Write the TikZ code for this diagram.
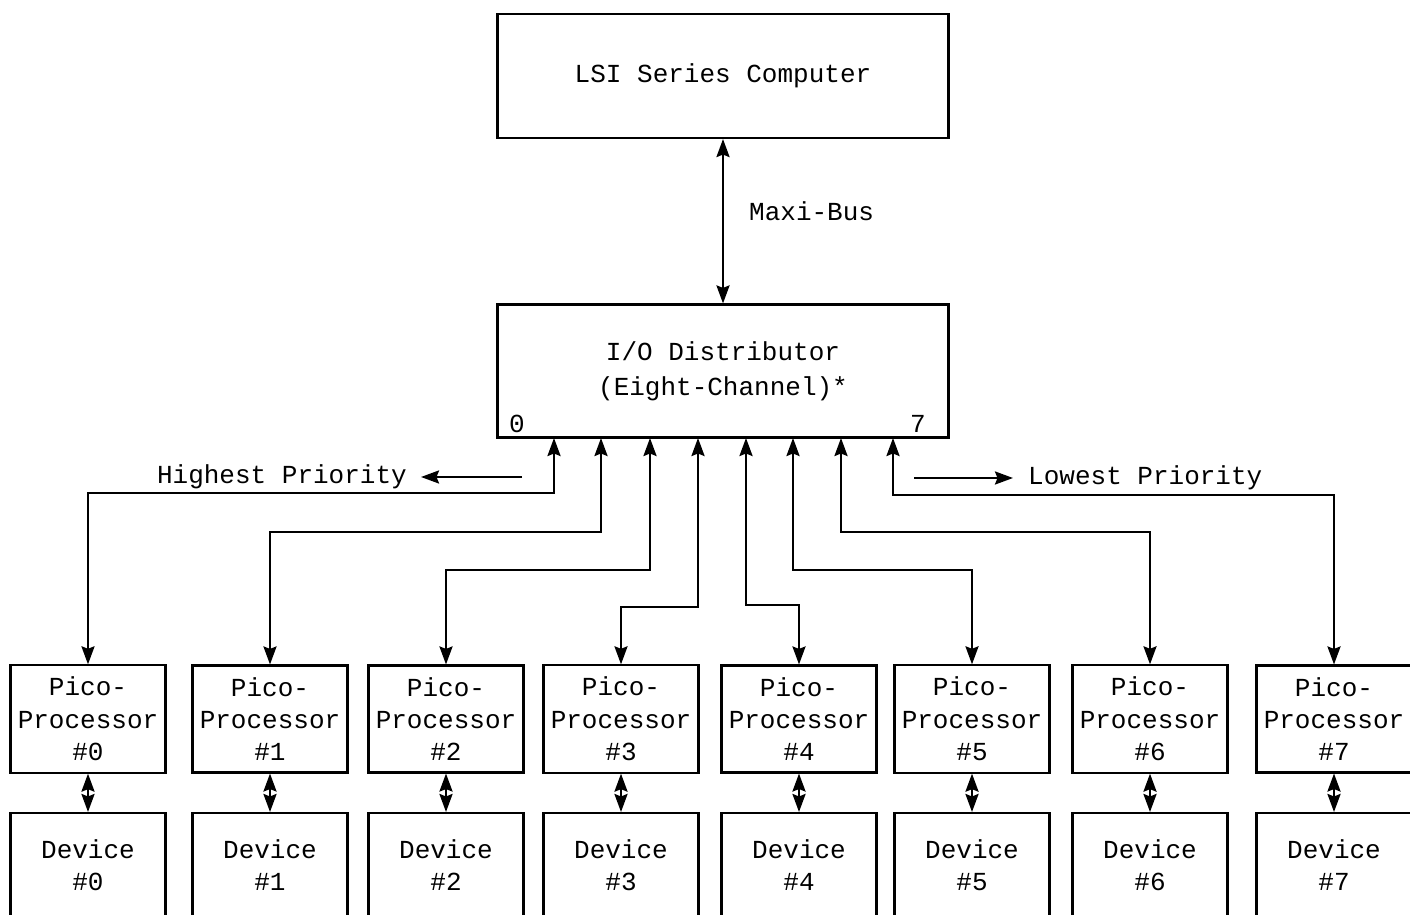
\documentclass[tikz,border=0pt]{standalone}
\usepackage{fontspec}
\setmonofont{Liberation Mono}
\usetikzlibrary{positioning,arrows.meta}

\begin{document}
\begin{tikzpicture}[x=0.1mm, y=-0.1mm, >={Stealth[length=1.8mm,width=1.3mm,inset=0.25mm]},
  every node/.style={font=\ttfamily\fontsize{7.4}{9.2}\selectfont, align=center, inner xsep=1pt},
  bigbox/.style={draw, line width=0.6pt, minimum width=45.1mm},
  picobox/.style={draw, line width=0.6pt, minimum width=15.5mm, minimum height=10.5mm},
  devbox/.style={draw, line width=0.6pt, minimum width=15.5mm, minimum height=14mm, anchor=north},
  link/.style={line width=0.7pt}]
\path[use as bounding box, clip] (0,0) rectangle (1410,915);
\node[bigbox, minimum height=12.4mm] (lsi) at (723,76) {LSI Series Computer};
\node[bigbox, minimum height=13.3mm, font=\ttfamily\fontsize{7.4}{10}\selectfont] (io) at (723,371) {I/O Distributor\\(Eight-Channel)*};
\node (n0) at (517,424) {0};
\node (n7) at (918,424) {7};
\draw[link,<->] (lsi) -- (io);
\node[anchor=west] (bus) at (745,211) {Maxi-Bus};
\node[anchor=east] (hi) at (411,477) {Highest Priority};
\node[anchor=west] (lo) at (1024,478) {Lowest Priority};
\coordinate (hs) at (522,477);
\coordinate (ls) at (914,478);
\draw[link,->,shorten >=1mm] (hs) -- (hs -| hi.east);
\draw[link,->,shorten >=1.1mm] (ls) -- (ls -| lo.west);
\foreach \i/\cx/\px/\d in {0/554/88/55, 1/601/270/94, 2/650/446/132, 3/698/621/169,
                           4/746/799/167, 5/793/972/132, 6/841/1150/94, 7/893/1334/57}{
  \node[picobox] (p\i) at (\px,719) {Pico-\\Processor\\\#\i};
  \node[devbox] (d\i) at (\px,812) {};
  \node[below=1.5mm of d\i.north] (t\i) {Device\\\#\i};
  \coordinate (c\i) at (\cx,438);
  \draw[link,<->] (c\i) -- ++(0,\d) -| (p\i.north);
  \draw[link,<->] (p\i) -- (d\i);
}
\end{tikzpicture}
\end{document}
